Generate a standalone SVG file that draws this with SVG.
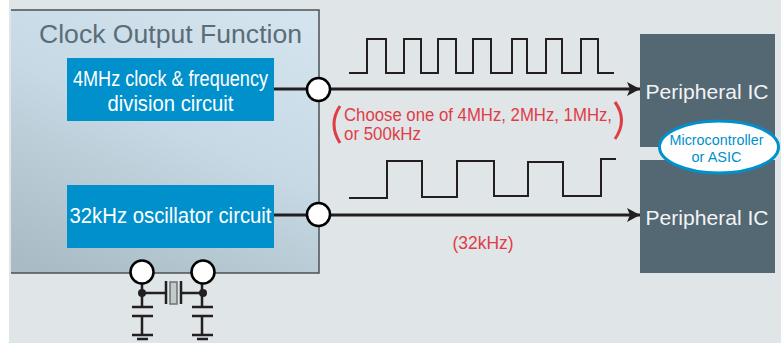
<svg xmlns="http://www.w3.org/2000/svg" width="781" height="343" viewBox="0 0 781 343">
<defs>
<linearGradient id="panel" gradientUnits="userSpaceOnUse" x1="100" y1="295" x2="230" y2="-10">
<stop offset="0" stop-color="#a9bbc4"/><stop offset="0.55" stop-color="#c6d9e4"/><stop offset="1" stop-color="#d4e4ef"/>
</linearGradient>
<marker id="arrow" markerUnits="userSpaceOnUse" markerWidth="14" markerHeight="14" refX="13" refY="7" orient="auto">
<path d="M0 0L13 7L0 14L3 7Z" fill="#231f20"/>
</marker>
</defs>
<style>
text{font-family:"Liberation Sans",Arial,sans-serif}
.box{fill:#0090cc}
.ic{fill:#546873}
.w{font-size:22px;fill:#fff;text-anchor:middle}
.ict{font-size:21px;fill:#f2f4f5;text-anchor:middle}
.red{font-size:17.5px;fill:#e03c46}
.wave{fill:none;stroke:#231f20;stroke-width:2}
.wire{fill:none;stroke:#231f20;stroke-width:3}
.thin{fill:none;stroke:#231f20;stroke-width:2.5}
.pin{fill:#fff;stroke:#000;stroke-width:2.5}
.paren{fill:none;stroke:#e03c46;stroke-width:3}
</style>
<rect x="0" y="0" width="781" height="343" fill="#fff"/>
<rect x="9" y="0" width="772" height="343" fill="#e0e5e8"/>
<g id="clock-output-function">
<rect x="11" y="10" width="308" height="263" fill="url(#panel)"/>
<path d="M11 10H319V273H11" fill="none" stroke="#4a5156" stroke-width="1.5"/>
<text x="39" y="43" font-size="25.500" fill="#5a6d78" textLength="263" lengthAdjust="spacingAndGlyphs">Clock Output Function</text>
</g>
<g id="clock-divider">
<rect class="box" x="67" y="58" width="207" height="63"/>
<text class="w" x="170.500" y="86" textLength="195" lengthAdjust="spacingAndGlyphs">4MHz clock &amp; frequency</text>
<text class="w" x="170.500" y="111" textLength="126" lengthAdjust="spacingAndGlyphs">division circuit</text>
</g>
<g id="oscillator">
<rect class="box" x="67" y="185" width="207" height="63"/>
<text class="w" x="170.500" y="223" textLength="202" lengthAdjust="spacingAndGlyphs">32kHz oscillator circuit</text>
</g>
<g id="peripheral-1">
<rect class="ic" x="640" y="34" width="135" height="113"/>
<text class="ict" x="707" y="99" textLength="123" lengthAdjust="spacingAndGlyphs">Peripheral IC</text>
</g>
<g id="peripheral-2">
<rect class="ic" x="640" y="160" width="135" height="113"/>
<text class="ict" x="707" y="225" textLength="123" lengthAdjust="spacingAndGlyphs">Peripheral IC</text>
</g>
<g id="connectors">
<path class="wire" d="M274 89H640" marker-end="url(#arrow)"/>
<path class="wire" d="M274 215H640" marker-end="url(#arrow)"/>
<path class="wave" d="M349 73H367V39H386V73H404V39H421V73H438V39H456V73H473V39H491V73H512V39H527V73H546V39H562V73H581V39H598V73H614"/>
<path class="wave" d="M349 198H387V161H422V197H457V161H494V196H528V162H563V196H601V159H616"/>
<path class="thin" d="M142 284V307M142 316V335M202 284V307M202 316V335"/>
<path class="thin" d="M142 293H165M181 293H203"/>
<path class="thin" d="M166 281V304M181 281V304"/>
<path class="thin" d="M132 307H153M132 316H153M132 335H153M137 339H148"/>
<path class="thin" d="M192 307H213M192 316H213M192 335H213M197 339H208"/>
</g>
<g id="crystal">
<rect x="170" y="282" width="7" height="22" fill="#c4c9ca" stroke="#6b7275" stroke-width="1.500"/>
</g>
<g id="pin-1"><circle class="pin" cx="318.500" cy="89.500" r="11.500"/></g>
<g id="pin-2"><circle class="pin" cx="318.500" cy="214.500" r="11.500"/></g>
<g id="pin-3"><circle class="pin" cx="142" cy="272" r="11.500"/><circle cx="142" cy="293" r="4" fill="#231f20"/></g>
<g id="pin-4"><circle class="pin" cx="203" cy="272" r="11.500"/><circle cx="203" cy="293" r="4" fill="#231f20"/></g>
<g id="note-1">
<path class="paren" d="M340 106Q328 124 340 143"/>
<path class="paren" d="M615 102Q628 120 615 139"/>
<text class="red" x="344" y="121" textLength="268" lengthAdjust="spacingAndGlyphs">Choose one of 4MHz, 2MHz, 1MHz,</text>
<text class="red" x="344" y="140" textLength="77" lengthAdjust="spacingAndGlyphs">or 500kHz</text>
</g>
<g id="note-2"><text class="red" x="483" y="249" text-anchor="middle" textLength="61" lengthAdjust="spacingAndGlyphs">(32kHz)</text></g>
<g id="mcu">
<ellipse cx="719" cy="147" rx="59.500" ry="26" fill="#fff" stroke="#0090cc" stroke-width="3"/>
<text x="716.500" y="145" font-size="15" fill="#0090cc" text-anchor="middle" textLength="94" lengthAdjust="spacingAndGlyphs">Microcontroller</text>
<text x="716.500" y="162" font-size="15" fill="#0090cc" text-anchor="middle" textLength="50" lengthAdjust="spacingAndGlyphs">or ASIC</text>
</g>
</svg>
